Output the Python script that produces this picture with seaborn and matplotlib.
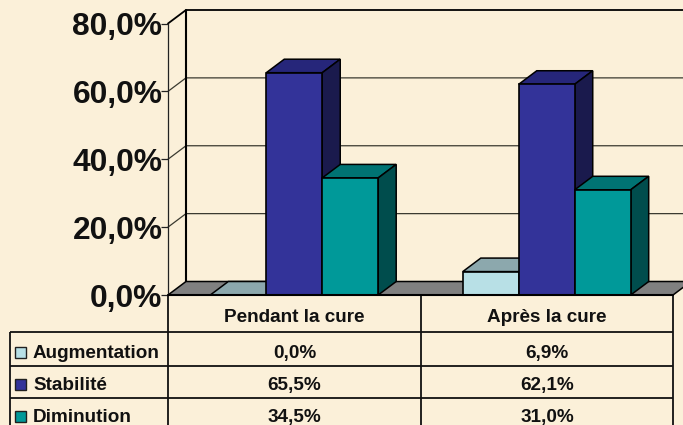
import matplotlib
matplotlib.use("Agg")
import matplotlib.pyplot as plt
from matplotlib.patches import Polygon, Rectangle
import pandas as pd
import seaborn as sns

periodes = ["Pendant la cure", "Après la cure"]
series = ["Augmentation", "Stabilité", "Diminution"]
augmentation = [0.0, 6.9]
stabilite = [65.5, 62.1]
diminution = [34.5, 31.0]
yticks = [0, 20, 40, 60, 80]

front = ["#B8E0E6", "#333399", "#009999"]
top = ["#8CA8AD", "#26267A", "#007373"]
side = ["#5C7073", "#1A1A4D", "#004D4D"]
bg = "#FBF0D9"

sns.set_theme(style="white")
plt.rcParams['font.family'] = ['Liberation Sans', 'DejaVu Sans']
plt.rcParams['font.weight'] = 'bold'

def fr(v):
    return f"{v:.1f}%".replace(".", ",")

df = pd.DataFrame({
    "periode": periodes * 3,
    "serie": [s for s in series for _ in periodes],
    "valeur": augmentation + stabilite + diminution,
})

W, H = 683, 425
fig = plt.figure(figsize=(W / 100, H / 100), dpi=100, facecolor=bg)

# table + labels in pixel coordinates
tab = fig.add_axes([0, 0, 1, 1], zorder=0)
tab.set_xlim(0, W)
tab.set_ylim(H, 0)
tab.axis("off")

lines = [
    ([168, 168], [295, 425]), ([420.5, 420.5], [295, 425]), ([673, 673], [295, 425]),
    ([10, 10], [332, 425]),
    ([10, 673], [332, 332]), ([10, 673], [366, 366]), ([10, 673], [397.5, 397.5]),
]
for xs, ys in lines:
    tab.plot(xs, ys, color="#111111", lw=1.3, solid_capstyle="butt")

row_y = [352, 384, 416]
rows = [augmentation, stabilite, diminution]
for i, s in enumerate(series):
    y = row_y[i]
    tab.add_patch(Rectangle((15, y - 5), 11, 11, fc=front[i], ec="#202020", lw=1))
    tab.text(33, y + 6, s, fontsize=13.6, fontweight="bold", va="baseline", ha="left", color="#111111")
    tab.text(294.5, y + 6, fr(rows[i][0]), fontsize=13.6, fontweight="bold", va="baseline", ha="center", color="#111111")
    tab.text(547, y + 6, fr(rows[i][1]), fontsize=13.6, fontweight="bold", va="baseline", ha="center", color="#111111")

# main chart: front plane of the 3d box
ax = fig.add_axes([168 / W, (H - 295) / H, (673 - 168) / W, (295 - 23.5) / H], zorder=1)
ax.patch.set_visible(False)
sns.barplot(data=df, x="periode", y="valeur", hue="serie", hue_order=series,
            order=periodes, palette=dict(zip(series, front)), saturation=1,
            width=0.665, gap=0, edgecolor="black", linewidth=1.2, legend=False, ax=ax)
ax.set_xlim(-0.5, 1.5)
ax.set_ylim(0, 80)
ax.set_xlabel("")
ax.set_ylabel("")
ax.set_yticks(yticks)
ax.set_yticklabels([fr(v) for v in yticks], fontsize=22.9, fontweight="bold", color="#111111")
ax.tick_params(axis="y", length=5, width=0.9, color="#222222", pad=-1, left=True)
ax.tick_params(axis="x", length=0, pad=10, labelsize=13.6, labelcolor="#111111")
for t in ax.get_xticklabels():
    t.set_fontweight("bold")
sns.despine(ax=ax, top=True, right=True, bottom=True)
ax.spines["left"].set_color("#222222")
ax.spines["left"].set_linewidth(0.9)

# depth of the box, in data units
dx = 18 / 252.5
dy = 13.5 / (271.5 / 80)
x0, x1 = -0.5, 1.5

ax.add_patch(Polygon([(x0, 0), (x1, 0), (x1 + dx, dy), (x0 + dx, dy)], closed=True,
                     fc="#808080", ec="black", lw=1.1, clip_on=False, zorder=0.5))
for v in yticks[1:4]:
    ax.plot([x0, x0 + dx, x1 + dx], [v, v + dy, v + dy], color="#3A3A30", lw=0.9,
            clip_on=False, zorder=0.4)
ax.plot([x0, x0 + dx, x1 + dx], [80, 80 + dy, 80 + dy], color="black", lw=1.3, clip_on=False, zorder=0.4)
ax.plot([x0 + dx, x0 + dx], [dy, 80 + dy], color="black", lw=1.5, clip_on=False, zorder=0.45)
ax.plot([x0, x1], [0, 0], color="black", lw=1.5, clip_on=False, zorder=20)

# 3d faces built from the bars seaborn drew
bars = [p for p in ax.patches if isinstance(p, Rectangle) and p.get_width() < 0.5]
bars = sorted(bars, key=lambda p: p.get_x())
for n, b in enumerate(bars):
    i = list(front).index(matplotlib.colors.to_hex(b.get_facecolor()).upper())
    l, r, h = b.get_x(), b.get_x() + b.get_width(), b.get_height()
    z = 2 + n
    b.set_zorder(z + 0.2)
    b.set_clip_on(False)
    ax.add_patch(Polygon([(l, h), (r, h), (r + dx, h + dy), (l + dx, h + dy)], closed=True,
                         fc=top[i], ec="black", lw=1.1, clip_on=False, zorder=z))
    ax.add_patch(Polygon([(r, 0), (r + dx, dy), (r + dx, h + dy), (r, h)], closed=True,
                         fc=side[i], ec="black", lw=1.1, clip_on=False, zorder=z))

fig.savefig("out.png", dpi=100, facecolor=bg)
